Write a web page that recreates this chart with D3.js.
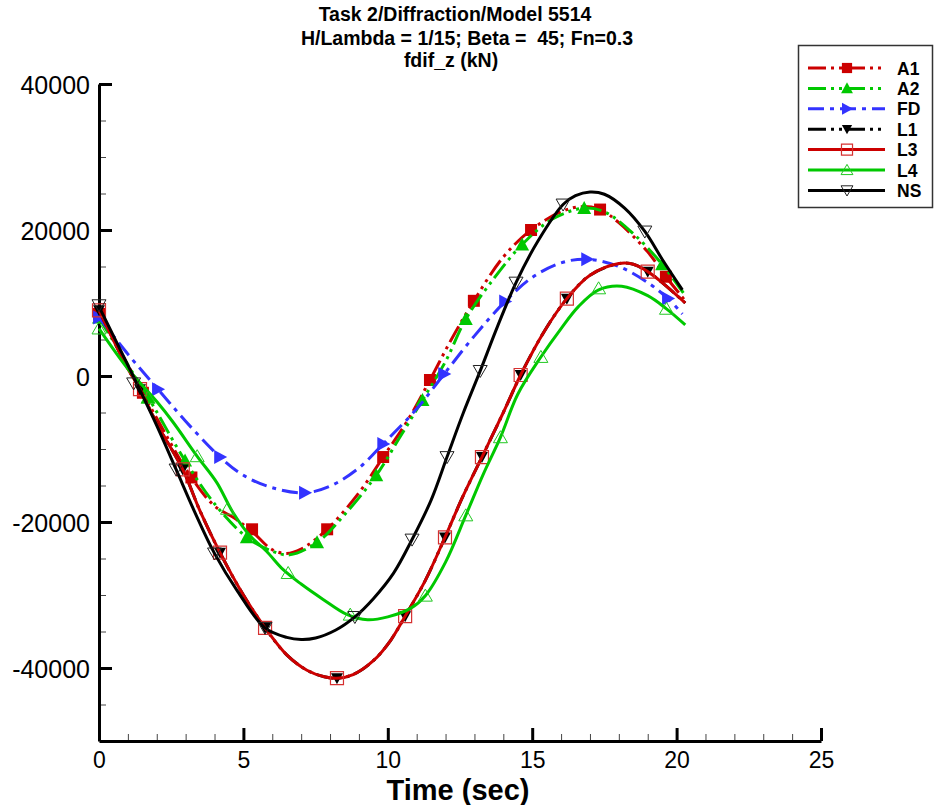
<!DOCTYPE html>
<html><head><meta charset="utf-8">
<script src="https://cdn.jsdelivr.net/npm/d3@7"></script>
<style>
body{margin:0;background:#fff}
text{font-family:"Liberation Sans",Arial,Helvetica,sans-serif}
</style>
</head><body>
<svg id="chart" width="935" height="805"></svg>
<script>
// ---------------- data ----------------
const titleLines = ["Task 2/Diffraction/Model 5514", "H/Lambda = 1/15; Beta =  45; Fn=0.3", "fdif_z (kN)"];
const xLabel = "Time (sec)";
const xTicks = [0, 5, 10, 15, 20, 25];
const xMinor = [1,2,3,4,6,7,8,9,11,12,13,14,16,17,18,19,21,22,23,24];
const yTicks = [-40000, -20000, 0, 20000, 40000];
const yMinor = [-45000,-35000,-30000,-25000,-15000,-10000,-5000,5000,10000,15000,25000,30000,35000];
const seriesNames = ["A1", "A2", "FD", "L1", "L3", "L4", "NS"];

const a1Line = [[0,8500],[1,1500],[1.52,-2300],[2,-5800],[3.2,-13900],[4,-17800],[4.7,-19500],[5.3,-21300],[6,-23800],[6.5,-24300],[7,-23700],[7.9,-21000],[9,-16000],[9.84,-11100],[10.7,-6000],[11.46,-550],[12.2,5000],[12.98,10300],[14,16300],[14.96,20000],[16,22500],[16.7,23200],[17.35,22800],[18,21000],[19,17000],[19.63,13600],[20.3,10300]];
const a1Marks = [[0,8500],[1.52,-2300],[3.2,-13900],[5.3,-21000],[7.9,-21000],[9.84,-11100],[11.46,-550],[12.98,10300],[14.96,20000],[17.35,22800],[19.63,13600]];

const a2Line = [[0,8000],[1,1500],[1.7,-2900],[2.98,-11600],[4,-17500],[5.12,-22100],[6,-24000],[6.6,-24500],[7.55,-22800],[8.5,-19000],[9.6,-13600],[10.4,-8500],[11.2,-3300],[12,2000],[12.7,7800],[13.7,13500],[14.65,18000],[15.7,21500],[16.8,23000],[17.5,22500],[18.5,19500],[19.5,15300],[20.3,11000]];
const a2Marks = [[0,8000],[1.7,-2900],[2.98,-11600],[5.12,-22100],[7.55,-22800],[9.6,-13600],[11.2,-3300],[12.7,7800],[14.65,18000],[16.8,23000],[19.5,15300]];

const fdLine = [[0,8000],[1,3000],[2.04,-1800],[3,-6200],[4.19,-11100],[5,-13600],[6,-15300],[7.13,-16000],[8,-15100],[9,-12600],[9.84,-9300],[11,-4500],[11.95,270],[13,5500],[14.06,10200],[15,13500],[16,15500],[16.9,16000],[18,15000],[19,12800],[19.7,10600],[20.2,8500]];
const fdMarks = [[0,8000],[2.04,-1800],[4.19,-11100],[7.13,-16000],[9.84,-9300],[11.95,270],[14.06,10200],[16.9,16000],[19.7,10600]];

const l1Line = [[0,9000],[1,1000],[1.42,-1800],[2,-6500],[2.9,-12800],[3.5,-18500],[4.19,-24200],[5,-30000],[5.75,-34500],[6.5,-38200],[7.2,-40300],[7.8,-41200],[8.24,-41400],[8.8,-40900],[9.5,-39000],[10.1,-36200],[10.6,-32900],[11.3,-28000],[11.98,-22100],[12.6,-16500],[13.26,-11100],[14,-5000],[14.6,140],[15.4,6000],[16.2,10600],[17,13800],[18,15400],[18.5,15300],[19,14300],[19.5,12800],[20.3,10000]];
const l1Marks = [[0,9000],[1.42,-1800],[2.9,-12800],[4.19,-24200],[5.75,-34500],[8.24,-41400],[10.6,-32900],[11.98,-22100],[13.26,-11100],[14.6,140],[16.2,10600],[19.0,14300]];

const l3Line = [[0,9000],[1,1000],[1.42,-1800],[2,-6500],[2.9,-12800],[3.5,-18500],[4.19,-24200],[5,-30000],[5.75,-34500],[6.5,-38200],[7.2,-40300],[7.8,-41200],[8.24,-41400],[8.8,-40900],[9.5,-39000],[10.1,-36200],[10.6,-32900],[11.3,-28000],[11.98,-22100],[12.6,-16500],[13.26,-11100],[14,-5000],[14.6,140],[15.4,6000],[16.2,10600],[17,13800],[18,15400],[18.5,15300],[19,14300],[19.5,12800],[20.3,10000]];
const l3Marks = [[0,9000],[1.42,-1800],[2.9,-12800],[4.19,-24200],[5.75,-34500],[8.24,-41400],[10.6,-32900],[11.98,-22100],[13.26,-11100],[14.6,140],[16.2,10600],[19.0,14300]];

const l4Line = [[0,6500],[1,1000],[2,-3500],[2.56,-6300],[3.4,-11000],[4.08,-14600],[4.64,-18700],[5.23,-21900],[5.8,-24000],[6.37,-26500],[7,-28500],[7.76,-30600],[8.6,-32700],[9.3,-33400],[10,-33000],[10.8,-31800],[11.3,-30100],[12,-25500],[12.7,-19100],[13.3,-13500],[13.9,-8400],[14.5,-2500],[15.3,2600],[16,6500],[16.6,9500],[17.3,11800],[18.1,12300],[19,11000],[19.65,9200],[20.3,7000]];
const l4Marks = [[0,6500],[1.7,-3000],[3.4,-11000],[4.45,-18200],[6.55,-27000],[8.7,-32700],[11.3,-30100],[12.7,-19100],[13.9,-8400],[15.3,2600],[17.3,12000],[19.65,9200]];

const nsLine = [[0,9500],[0.5,5500],[1,1500],[1.3,-960],[2,-6800],[2.67,-12800],[3.3,-18500],[4,-24300],[4.8,-29500],[5.75,-34500],[6.5,-35800],[7,-36100],[7.5,-35900],[8.2,-34800],[8.86,-33000],[9.5,-30500],[10.2,-27000],[10.84,-22400],[11.5,-17000],[12.05,-11100],[12.6,-5200],[13.2,700],[13.8,6800],[14.44,12800],[15.2,18500],[16.07,23500],[16.5,24700],[17,25200],[17.5,24900],[18.2,23000],[18.9,19800],[19.5,16000],[20.2,11800]];
const nsMarks = [[0,9700],[1.2,-1000],[2.67,-12800],[4,-24300],[5.75,-34500],[8.86,-33000],[10.84,-22400],[12.05,-11100],[13.2,700],[14.44,12800],[16.07,23500],[18.9,19800]];

// ---------------- styles ----------------
const RED = "#cc0000", GREEN = "#00c800", BLUE = "#3333ff", BLACK = "#000";
const styles = {
  A1: {line: a1Line, marks: a1Marks, color: RED, dash: "18,5,3,5,3,5", shape: "square", fill: RED, stroke: "none", sw: 0, w: 12, h: 12},
  A2: {line: a2Line, marks: a2Marks, color: GREEN, dash: "18,5,3,5,3,5", shape: "up", fill: GREEN, stroke: "none", sw: 0, w: 14, h: 13},
  FD: {line: fdLine, marks: fdMarks, color: BLUE, dash: "16,6,4,6", shape: "right", fill: BLUE, stroke: "none", sw: 0, w: 13, h: 14},
  L1: {line: l1Line, marks: l1Marks, color: BLACK, dash: "18,5,3,5,3,5", shape: "down", fill: BLACK, stroke: "none", sw: 0, w: 12, h: 11},
  L3: {line: l3Line, marks: l3Marks, color: RED, dash: null, shape: "square", fill: "none", stroke: "#d63030", sw: 1.2, w: 13, h: 13},
  L4: {line: l4Line, marks: l4Marks, color: GREEN, dash: null, shape: "up", fill: "none", stroke: "#22c822", sw: 1, w: 14, h: 12},
  NS: {line: nsLine, marks: nsMarks, color: BLACK, dash: null, shape: "down", fill: "none", stroke: "#222", sw: 1, w: 14, h: 12}
};

function markerPath(shape, w, h) {
  switch (shape) {
    case "square": return `M${-w/2},${-h/2}h${w}v${h}h${-w}Z`;
    case "up": return `M0,${-h*0.55}L${w/2},${h*0.45}L${-w/2},${h*0.45}Z`;
    case "down": return `M0,${h*0.55}L${w/2},${-h*0.45}L${-w/2},${-h*0.45}Z`;
    case "right": return `M${w*0.55},0L${-w*0.45},${-h/2}L${-w*0.45},${h/2}Z`;
  }
}

// ---------------- chart ----------------
const svg = d3.select("#chart");
svg.append("rect").attr("width", 935).attr("height", 805).attr("fill", "#fff");

const x = d3.scaleLinear().domain([0, 25]).range([99, 821]);
const y = d3.scaleLinear().domain([-50000, 40000]).range([741, 84]);

// title
const titleX = [455, 467, 451];
const titleY = [21, 45, 67];
svg.append("g").selectAll("text").data(titleLines).join("text")
  .attr("x", (d, i) => titleX[i]).attr("y", (d, i) => titleY[i])
  .attr("text-anchor", "middle").attr("font-size", 19.5).attr("font-weight", "bold")
  .style("white-space", "pre").text(d => d);

// minor ticks
svg.append("g").attr("transform", "translate(99,0)")
  .call(d3.axisLeft(y).tickValues(yMinor).tickSize(-7).tickFormat(""))
  .call(g => g.select(".domain").remove())
  .call(g => g.selectAll("line").attr("stroke", "#444").attr("stroke-width", 1));
svg.append("g").attr("transform", "translate(0,741)")
  .call(d3.axisBottom(x).tickValues(xMinor).tickSize(-7).tickFormat(""))
  .call(g => g.select(".domain").remove())
  .call(g => g.selectAll("line").attr("stroke", "#444").attr("stroke-width", 1));

// major axes
const yAxis = svg.append("g").attr("transform", "translate(99,0)")
  .call(d3.axisLeft(y).tickValues(yTicks).tickSize(-13).tickSizeOuter(0).tickPadding(9).tickFormat(d => String(d)));
yAxis.select(".domain").attr("stroke-width", 3).attr("stroke", "#000");
yAxis.selectAll(".tick line").attr("stroke-width", 3).attr("stroke", "#000");
yAxis.selectAll("text").attr("font-size", 25).attr("fill", "#000")
  .attr("font-family", '"Liberation Sans",Arial,sans-serif').attr("dy", "0.36em");

const xAxis = svg.append("g").attr("transform", "translate(0,741)")
  .call(d3.axisBottom(x).tickValues(xTicks).tickSize(-13).tickSizeOuter(0).tickPadding(11).tickFormat(d => String(d)));
xAxis.select(".domain").attr("stroke-width", 3).attr("stroke", "#000");
xAxis.selectAll(".tick line").attr("stroke-width", 3).attr("stroke", "#000");
xAxis.selectAll("text").attr("font-size", 23).attr("fill", "#000")
  .attr("font-family", '"Liberation Sans",Arial,sans-serif');

svg.append("text").attr("x", 458).attr("y", 800).attr("text-anchor", "middle")
  .attr("font-size", 29).attr("font-weight", "bold").text(xLabel);

// series
const lineGen = d3.line().x(d => x(d[0])).y(d => y(d[1])).curve(d3.curveCatmullRom.alpha(0.5));
seriesNames.forEach(name => {
  const s = styles[name];
  const g = svg.append("g");
  g.append("path").attr("d", lineGen(s.line)).attr("fill", "none")
    .attr("stroke", s.color).attr("stroke-width", 3)
    .attr("stroke-dasharray", s.dash).attr("stroke-linejoin", "round");
  g.selectAll("path.m").data(s.marks).join("path").attr("class", "m")
    .attr("transform", d => `translate(${x(d[0])},${y(d[1])})`)
    .attr("d", markerPath(s.shape, s.w, s.h))
    .attr("fill", s.fill).attr("stroke", s.stroke).attr("stroke-width", s.sw);
});

// legend
const lg = svg.append("g");
lg.append("rect").attr("x", 798.5).attr("y", 45.5).attr("width", 134).attr("height", 162)
  .attr("fill", "#fff").attr("stroke", "#333").attr("stroke-width", 1.5);
seriesNames.forEach((name, i) => {
  const s = styles[name];
  const ry = 68 + i * 20.4;
  lg.append("line").attr("x1", 808).attr("x2", 885).attr("y1", ry).attr("y2", ry)
    .attr("stroke", s.color).attr("stroke-width", 3).attr("stroke-dasharray", s.dash);
  lg.append("path").attr("transform", `translate(847,${ry})`)
    .attr("d", markerPath(s.shape, s.w * 0.85, s.h * 0.85))
    .attr("fill", s.fill).attr("stroke", s.stroke).attr("stroke-width", s.sw);
  lg.append("text").attr("x", 897).attr("y", ry + 6.5).attr("font-size", 17.5)
    .attr("font-weight", "bold").text(name);
});
</script>
</body></html>
